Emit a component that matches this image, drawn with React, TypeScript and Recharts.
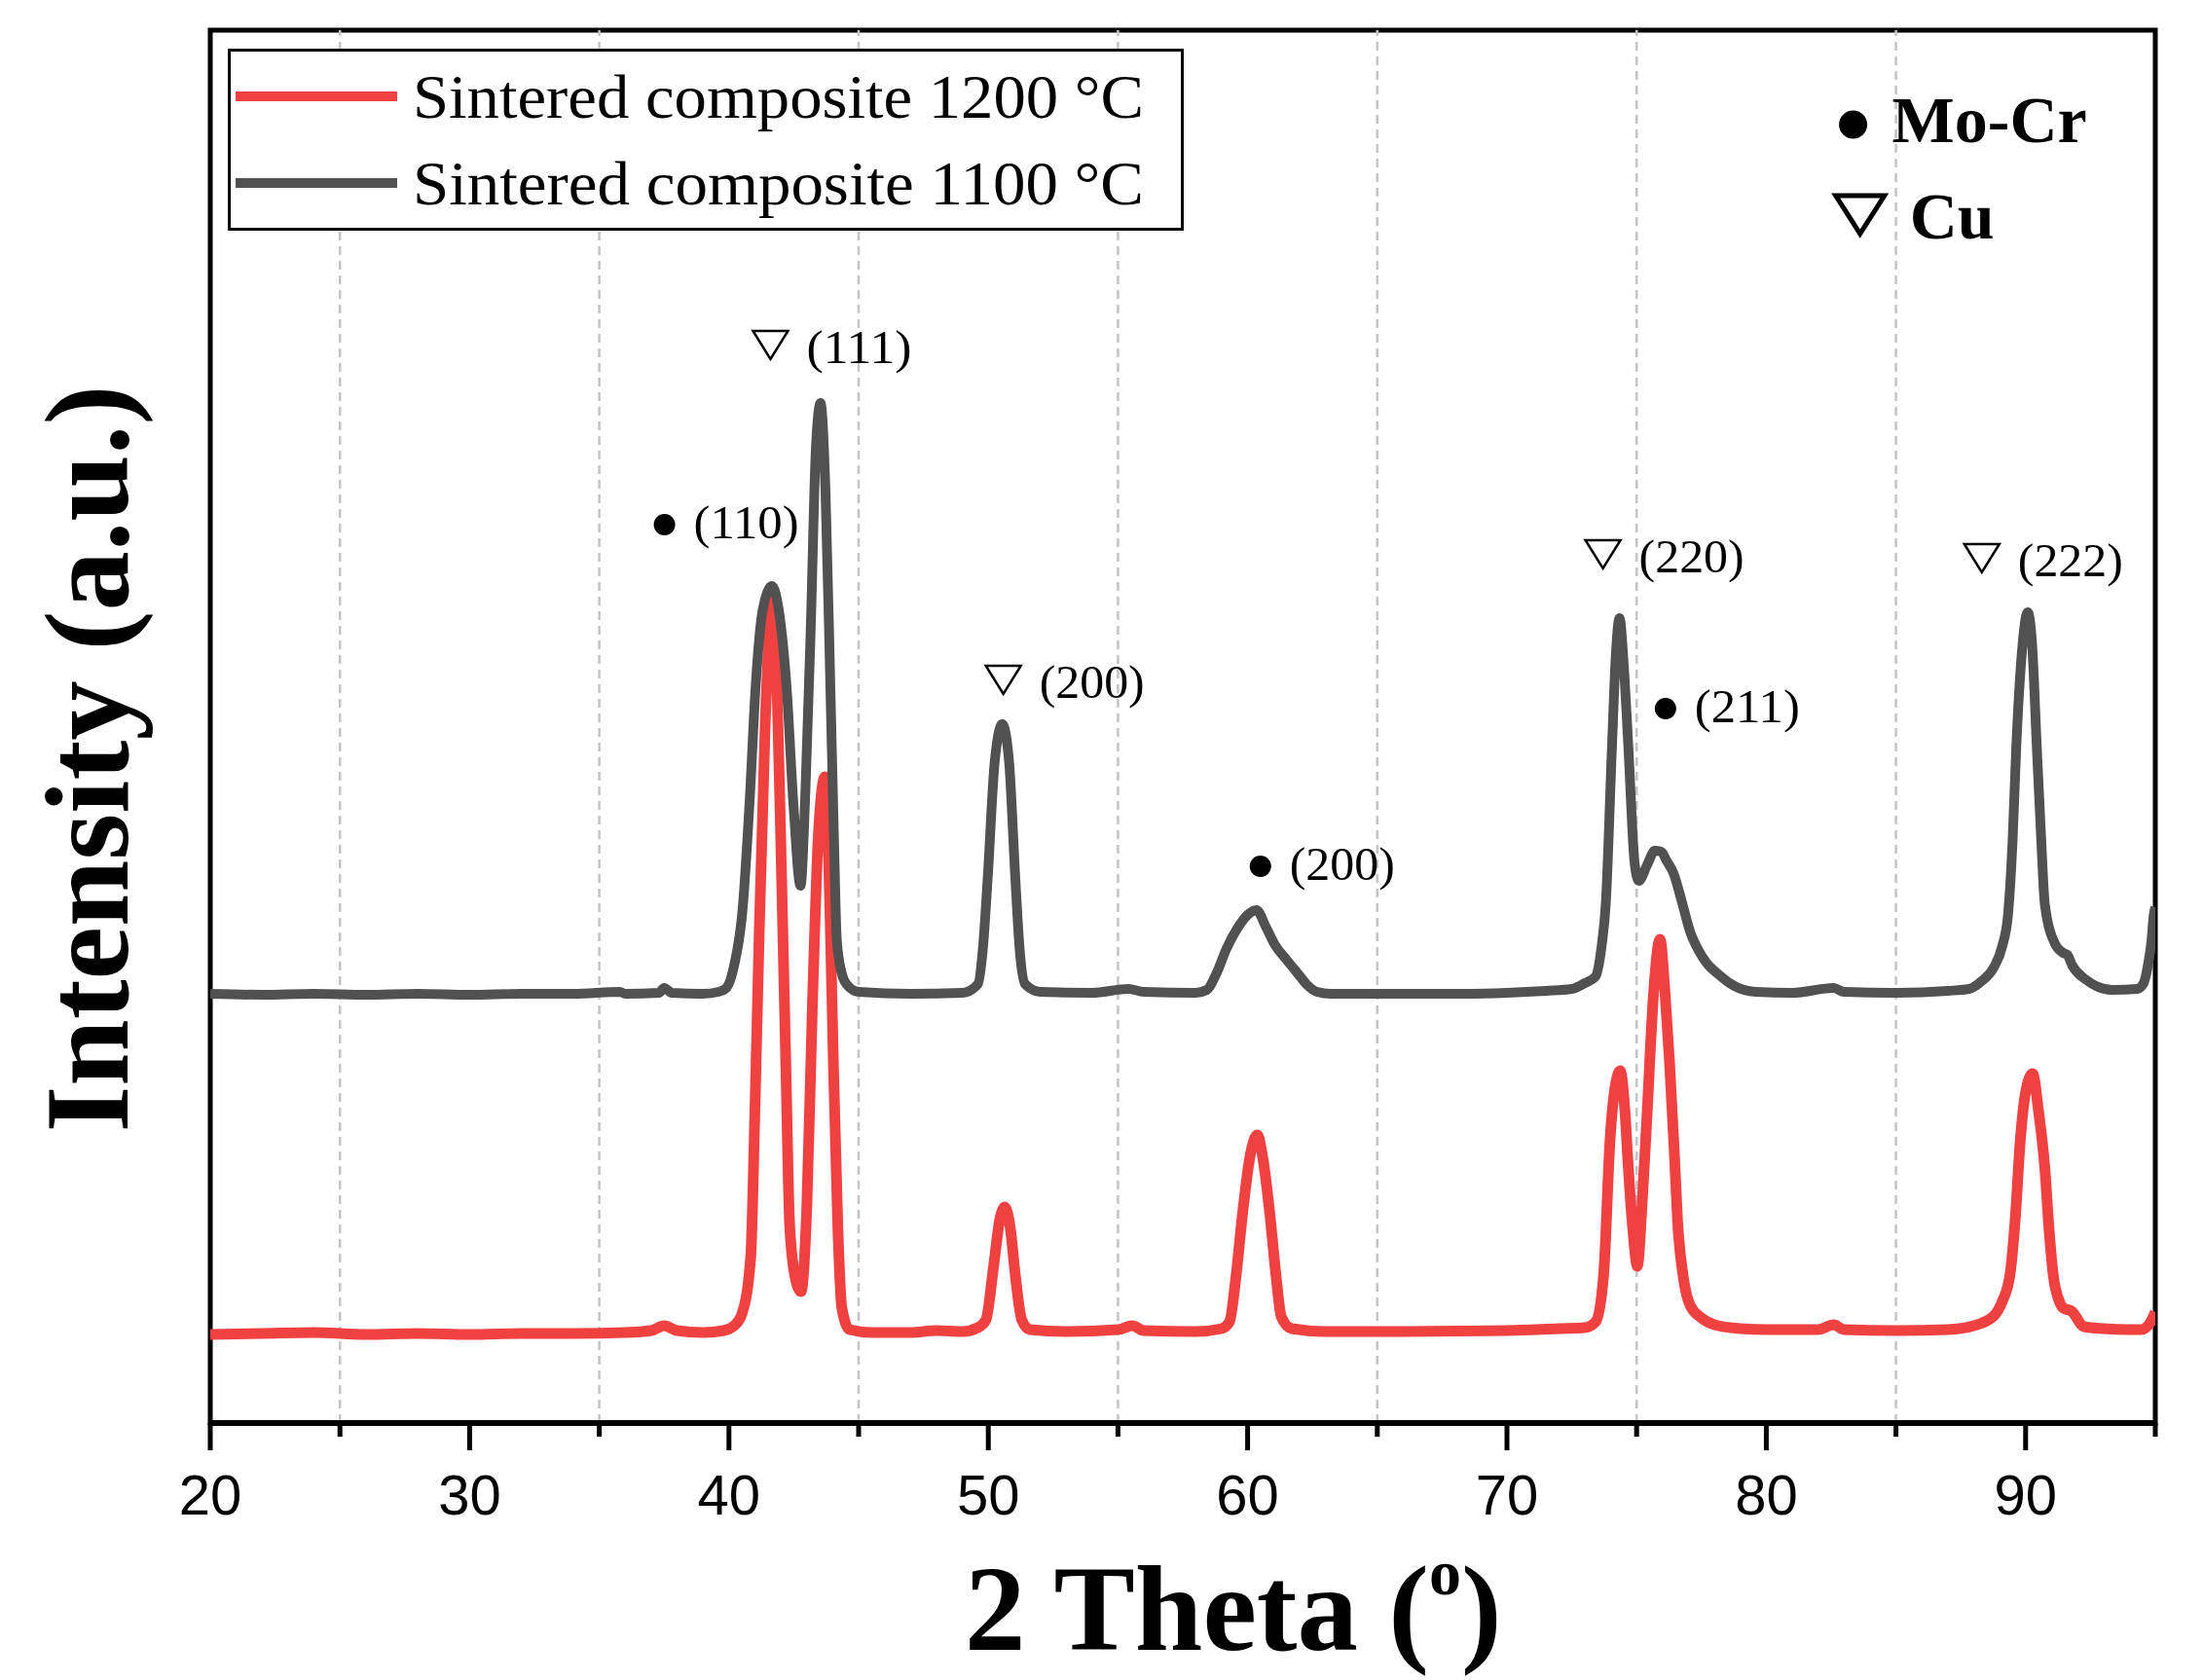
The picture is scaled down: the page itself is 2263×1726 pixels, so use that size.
import React from "react";
import { LineChart, Line, XAxis, YAxis, Legend, ReferenceLine, ReferenceArea, ReferenceDot } from "recharts";

// [2theta, intensity] (intensity in plot pixels above the x axis)
const sintered1200: [number, number][] = [
  [20, 91], [22, 92], [24, 93], [26, 91], [28, 92], [30, 91], [32, 92], [34, 92], [36, 93], [37, 95],
  [37.5, 100], [38, 95], [39, 93], [39.8, 95], [40.2, 100], [40.5, 112], [40.84, 171], [41.0, 320],
  [41.16, 496], [41.4, 720], [41.69, 846], [41.85, 760], [42.03, 561], [42.2, 360], [42.34, 204],
  [42.55, 150], [42.78, 135], [43.0, 220], [43.22, 431], [43.45, 605], [43.7, 664], [43.9, 520],
  [44.03, 366], [44.2, 200], [44.35, 119], [44.65, 96], [45.5, 93], [47, 93], [48, 95], [49, 94],
  [49.6, 98], [49.91, 106], [50.2, 160], [50.45, 210], [50.64, 222], [50.85, 200], [51.05, 150],
  [51.29, 106], [51.6, 96], [53, 94], [55, 96], [55.55, 100], [56, 95], [58, 94], [59.0, 97],
  [59.3, 104], [59.55, 150], [59.8, 214], [60.1, 275], [60.37, 296], [60.6, 270], [60.86, 214],
  [61.1, 150], [61.3, 109], [61.7, 97], [63, 94], [66, 94], [70, 95], [72, 97], [73, 98],
  [73.42, 104], [73.73, 153], [73.97, 289], [74.2, 350], [74.37, 362], [74.55, 320], [74.68, 262],
  [74.85, 200], [75.03, 161], [75.2, 220], [75.4, 316], [75.65, 440], [75.9, 497], [76.1, 440],
  [76.27, 370], [76.45, 280], [76.58, 207], [76.8, 150], [77.06, 121], [77.5, 108], [78, 101],
  [79, 97], [80, 96], [82, 96], [82.6, 101], [83, 96], [85, 95], [87, 96], [88, 100], [88.77, 110],
  [89.1, 125], [89.4, 153], [89.6, 210], [89.79, 289], [90.0, 340], [90.27, 359], [90.5, 320],
  [90.74, 262], [90.9, 200], [91.06, 153], [91.3, 125], [91.46, 118], [91.77, 115], [92.25, 99],
  [93, 97], [94, 96], [94.46, 96], [94.8, 103], [95, 114],
];

const sintered1100: [number, number][] = [
  [20, 441], [22, 440], [24, 441], [26, 440], [28, 441], [30, 440], [32, 441], [34, 441], [35.8, 443],
  [36, 441], [37.3, 442], [37.5, 447], [37.8, 442], [39, 441], [39.6, 443], [39.9, 447], [40.2, 470],
  [40.53, 529], [40.8, 640], [41.03, 757], [41.3, 835], [41.66, 860], [41.95, 830], [42.22, 757],
  [42.5, 630], [42.76, 552], [42.95, 650], [43.16, 822], [43.35, 1000], [43.53, 1048], [43.72, 960],
  [43.91, 757], [44.05, 600], [44.16, 496], [44.35, 462], [44.53, 451], [45, 443], [47, 441],
  [49, 442], [49.6, 451], [49.8, 490], [49.98, 561], [50.25, 680], [50.54, 718], [50.8, 680],
  [51.04, 561], [51.2, 490], [51.42, 451], [52, 443], [54, 442], [55.4, 446], [56, 443], [58, 442],
  [58.43, 445], [58.8, 462], [59.18, 487], [59.6, 508], [60.0, 522], [60.34, 527], [60.7, 510],
  [61.06, 491], [61.5, 476], [61.93, 462], [62.3, 450], [62.68, 443], [63.2, 441], [64, 441], [66, 441],
  [68, 441], [70, 442], [71.5, 444], [72.5, 446], [73.0, 452], [73.42, 459], [73.65, 490],
  [73.81, 533], [74.05, 695], [74.2, 790], [74.34, 827], [74.5, 780], [74.68, 695], [74.92, 576],
  [75.08, 557], [75.4, 573], [75.7, 588], [75.95, 587], [76.15, 578], [76.42, 565], [76.75, 535],
  [77.06, 505], [77.4, 485], [77.69, 473], [78.2, 460], [78.64, 451], [79.59, 443], [81, 442],
  [82.6, 447], [83, 443], [85, 442], [87, 444], [87.82, 446], [88.3, 454], [88.77, 468], [89.1, 490],
  [89.32, 522], [89.5, 600], [89.64, 695], [89.85, 790], [90.08, 833], [90.25, 800], [90.43, 695],
  [90.6, 600], [90.74, 533], [91.14, 492], [91.45, 483], [91.61, 481], [91.8, 470], [92.25, 457],
  [93.35, 445], [94.3, 446], [94.55, 452], [94.7, 468], [94.85, 495], [94.94, 522], [95, 530],
];

const seriesNames = ["Sintered composite 1200 °C", "Sintered composite 1100 °C"];

const xTicks = [20, 25, 30, 35, 40, 45, 50, 55, 60, 65, 70, 75, 80, 85, 90, 95];
const majorTicks = [20, 30, 40, 50, 60, 70, 80, 90];
const gridLines = [25, 35, 45, 55, 65, 75, 85];

// peak annotations: text start / baseline in data units
const peakLabels = [
  { x: 38.64, y: 909, mark: "dot", text: "(110)" },
  { x: 42.99, y: 1089, mark: "tri", text: "(111)" },
  { x: 51.97, y: 745, mark: "tri", text: "(200)" },
  { x: 61.62, y: 558, mark: "dot", text: "(200)" },
  { x: 75.09, y: 874, mark: "tri", text: "(220)" },
  { x: 77.24, y: 720, mark: "dot", text: "(211)" },
  { x: 89.7, y: 870, mark: "tri", text: "(222)" },
];

const phaseKey = [
  { x: 84.85, y: 1316, mark: "dot", text: "Mo-Cr" },
  { x: 85.53, y: 1217, mark: "tri", text: "Cu" },
];

const RED = "#f04141";
const GRAY = "#515151";
const SERIF = "'Liberation Serif', 'Times New Roman', serif";

const toRows = (pts: [number, number][]) => pts.map(([x, y]) => ({ x, y }));

const PeakLabel = ({ cx, cy, mark, text }: any) => (
  <g>
    {mark === "dot" ? (
      <circle cx={cx - 30} cy={cy - 14} r={11} fill="#000" />
    ) : (
      <path d={`M${cx - 55},${cy - 33} L${cx - 19},${cy - 33} L${cx - 37},${cy - 4} Z`} fill="none" stroke="#000" strokeWidth={2.5} />
    )}
    <text x={cx} y={cy} fontFamily={SERIF} fontSize={48} textLength={108} lengthAdjust="spacingAndGlyphs" fill="#000">
      {text}
    </text>
  </g>
);

const KeyLabel = ({ cx, cy, mark, text }: any) => (
  <g>
    {mark === "dot" ? (
      <circle cx={cx - 40} cy={cy - 18} r={14.5} fill="#000" />
    ) : (
      <path d={`M${cx - 76},${cy - 44} L${cx - 26},${cy - 44} L${cx - 51},${cy - 5} Z`} fill="none" stroke="#000" strokeWidth={5} />
    )}
    <text x={cx} y={cy} fontFamily={SERIF} fontWeight="bold" fontSize={68} fill="#000">
      {text}
    </text>
  </g>
);

const XTick = ({ x, y, payload }: any) => {
  const major = majorTicks.includes(payload.value);
  return (
    <g>
      <line x1={x} y1={y} x2={x} y2={y + (major ? 28 : 14)} stroke="#000" strokeWidth={5} />
      {major && (
        <text x={x} y={y + 94} textAnchor="middle" fontFamily="'Liberation Sans', Arial, sans-serif" fontSize={58} fill="#000">
          {payload.value}
        </text>
      )}
    </g>
  );
};

const XTitle = ({ viewBox }: any) => (
  <text x={viewBox.x + 775} y={viewBox.y + 233} fontFamily={SERIF} fontWeight="bold" fontSize={125} fill="#000">
    2 Theta (
    <tspan dy={-57} fontSize={66}>o</tspan>
    <tspan dy={57}>)</tspan>
  </text>
);

const YTitle = ({ viewBox }: any) => {
  const x = viewBox.x + viewBox.width - 85;
  const y = viewBox.y + viewBox.height / 2 + 33;
  return (
    <text
      x={x}
      y={y}
      transform={`rotate(-90, ${x}, ${y})`}
      textAnchor="middle"
      fontFamily={SERIF}
      fontWeight="bold"
      fontSize={122}
      textLength={768}
      lengthAdjust="spacingAndGlyphs"
      fill="#000"
    >
      Intensity (a.u.)
    </text>
  );
};

const LegendBox = ({ payload }: any) => {
  const items = [...(payload || [])].sort((a: any, b: any) => seriesNames.indexOf(a.value) - seriesNames.indexOf(b.value));
  return (
    <svg width={990} height={192}>
      <rect x={3.5} y={3.5} width={979} height={184} fill="#fff" stroke="#000" strokeWidth={3} />
      {items.map((p: any, i: number) => (
        <g key={p.value}>
          <line x1={10} x2={176} y1={51 + i * 89} y2={51 + i * 89} stroke={p.color} strokeWidth={10} />
          <text x={192} y={73 + i * 89} fontFamily={SERIF} fontSize={64} textLength={751} lengthAdjust="spacingAndGlyphs" fill="#000">
            {p.value}
          </text>
        </g>
      ))}
    </svg>
  );
};

export default function App() {
  return (
    <div style={{ position: "absolute", left: 0, top: 0, width: 2263, height: 1726, background: "#fff" }}>
      <LineChart width={2263} height={1726} margin={{ top: 31, right: 49, left: 214, bottom: 164 }}>
        {gridLines.map((g) => (
          <ReferenceLine key={g} x={g} stroke="#c4c4c4" strokeWidth={2.5} strokeDasharray="9 6" />
        ))}
        <XAxis
          dataKey="x"
          type="number"
          domain={[20, 95]}
          ticks={xTicks}
          interval={0}
          allowDataOverflow
          height={100}
          tickSize={0}
          tickMargin={0}
          tickLine={false}
          axisLine={{ stroke: "#000", strokeWidth: 6 }}
          tick={<XTick />}
          label={{ content: XTitle }}
        />
        <YAxis
          type="number"
          domain={[0, 1431]}
          allowDataOverflow
          width={2}
          tick={false}
          tickLine={false}
          axisLine={false}
          label={{ content: YTitle }}
        />
        <Legend
          layout="horizontal"
          verticalAlign="middle"
          content={<LegendBox />}
          wrapperStyle={{ left: 232, top: 48, width: 990, height: 192 }}
        />
        <Line
          data={toRows(sintered1200)}
          dataKey="y"
          name={seriesNames[0]}
          type="monotone"
          stroke={RED}
          strokeWidth={11}
          dot={false}
          strokeLinejoin="round"
          isAnimationActive={false}
        />
        <Line
          data={toRows(sintered1100)}
          dataKey="y"
          name={seriesNames[1]}
          type="monotone"
          stroke={GRAY}
          strokeWidth={10}
          dot={false}
          strokeLinejoin="round"
          isAnimationActive={false}
        />
        <ReferenceArea x1={20} x2={95} y1={0} y2={1431} fill="none" stroke="#000" strokeWidth={5} />
        {peakLabels.map((p) => (
          <ReferenceDot key={p.x} x={p.x} y={p.y} r={0} shape={(s: any) => <PeakLabel cx={s.cx} cy={s.cy} mark={p.mark} text={p.text} />} />
        ))}
        {phaseKey.map((p) => (
          <ReferenceDot key={p.text} x={p.x} y={p.y} r={0} shape={(s: any) => <KeyLabel cx={s.cx} cy={s.cy} mark={p.mark} text={p.text} />} />
        ))}
      </LineChart>
    </div>
  );
}
